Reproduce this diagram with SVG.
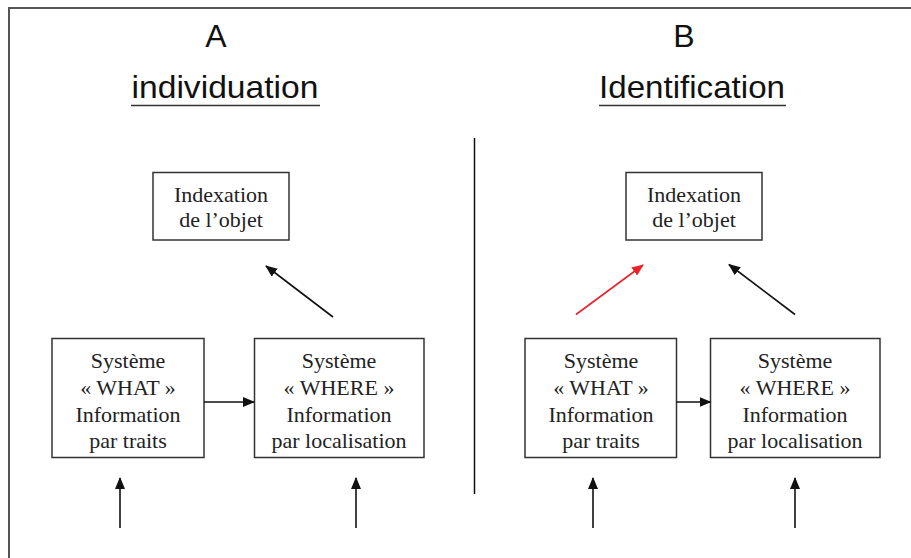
<svg xmlns="http://www.w3.org/2000/svg" width="911" height="558" viewBox="0 0 911 558">
<style>
.box{fill:#fff;stroke:#333;stroke-width:1.5}
.lbl{font-family:"Liberation Serif","Times New Roman",serif;font-size:22px;fill:#222;text-anchor:middle}
.ttl{font-family:"Liberation Sans",Arial,sans-serif;font-size:32px;fill:#111;text-anchor:middle}
.arr{stroke:#111;stroke-width:1.6;fill:none;marker-end:url(#ah)}
.arr.red{stroke:#e8232a;marker-end:url(#ahr)}
</style>
<defs>
<marker id="ah" markerUnits="userSpaceOnUse" markerWidth="12" markerHeight="10" refX="11" refY="5" orient="auto"><path d="M0,0 L12,5 L0,10 Z" fill="#111"/></marker>
<marker id="ahr" markerUnits="userSpaceOnUse" markerWidth="12" markerHeight="10" refX="11" refY="5" orient="auto"><path d="M0,0 L12,5 L0,10 Z" fill="#e8232a"/></marker>
</defs>
<rect x="0" y="0" width="911" height="558" fill="#fff"/>
<rect x="9" y="8" width="910" height="560" fill="none" stroke="#555" stroke-width="2"/>
<line x1="474.5" y1="138" x2="474.5" y2="494" stroke="#111" stroke-width="1.5"/>

<g id="titleA">
<text class="ttl" x="216" y="46.5">A</text>
<text class="ttl" x="225" y="98" textLength="187" lengthAdjust="spacingAndGlyphs">individuation</text>
<line x1="131" y1="105.5" x2="320" y2="105.5" stroke="#333" stroke-width="1.5"/>
</g>
<g id="titleB">
<text class="ttl" x="684" y="46.5">B</text>
<text class="ttl" x="692" y="98" textLength="186" lengthAdjust="spacingAndGlyphs">Identification</text>
<line x1="599" y1="105.5" x2="786" y2="105.5" stroke="#333" stroke-width="1.5"/>
</g>

<g id="indexA">
<rect class="box" x="153" y="172.5" width="136" height="67.5"/>
<text class="lbl" x="221" y="202">Indexation</text>
<text class="lbl" x="221" y="227">de l’objet</text>
</g>
<g id="whatA">
<rect class="box" x="52" y="338.5" width="152" height="119"/>
<text class="lbl" x="128" y="368">Système</text>
<text class="lbl" x="128" y="395">« WHAT »</text>
<text class="lbl" x="128" y="421.5">Information</text>
<text class="lbl" x="128" y="448">par traits</text>
</g>
<g id="whereA">
<rect class="box" x="254.5" y="338.5" width="169.5" height="119"/>
<text class="lbl" x="339" y="368">Système</text>
<text class="lbl" x="339" y="395">« WHERE »</text>
<text class="lbl" x="339" y="421.5">Information</text>
<text class="lbl" x="339" y="448">par localisation</text>
</g>

<g id="indexB">
<rect class="box" x="626" y="172.5" width="136" height="67.5"/>
<text class="lbl" x="694" y="202">Indexation</text>
<text class="lbl" x="694" y="227">de l’objet</text>
</g>
<g id="whatB">
<rect class="box" x="525" y="338.5" width="151.5" height="119"/>
<text class="lbl" x="601" y="368">Système</text>
<text class="lbl" x="601" y="395">« WHAT »</text>
<text class="lbl" x="601" y="421.5">Information</text>
<text class="lbl" x="601" y="448">par traits</text>
</g>
<g id="whereB">
<rect class="box" x="710.5" y="338.5" width="169.5" height="119"/>
<text class="lbl" x="795" y="368">Système</text>
<text class="lbl" x="795" y="395">« WHERE »</text>
<text class="lbl" x="795" y="421.5">Information</text>
<text class="lbl" x="795" y="448">par localisation</text>
</g>

<g id="connectors">
<line class="arr" x1="333" y1="317" x2="266" y2="266"/>
<line class="arr" x1="204" y1="402" x2="254" y2="402"/>
<line class="arr" x1="120" y1="528" x2="120" y2="478"/>
<line class="arr" x1="356" y1="528" x2="356" y2="478"/>
<line class="arr red" x1="576" y1="314.5" x2="643" y2="265"/>
<line class="arr" x1="795" y1="314.5" x2="729" y2="264.5"/>
<line class="arr" x1="676.5" y1="402" x2="710.5" y2="402"/>
<line class="arr" x1="593" y1="528" x2="593" y2="478"/>
<line class="arr" x1="795" y1="528" x2="795" y2="478"/>
</g>
</svg>
